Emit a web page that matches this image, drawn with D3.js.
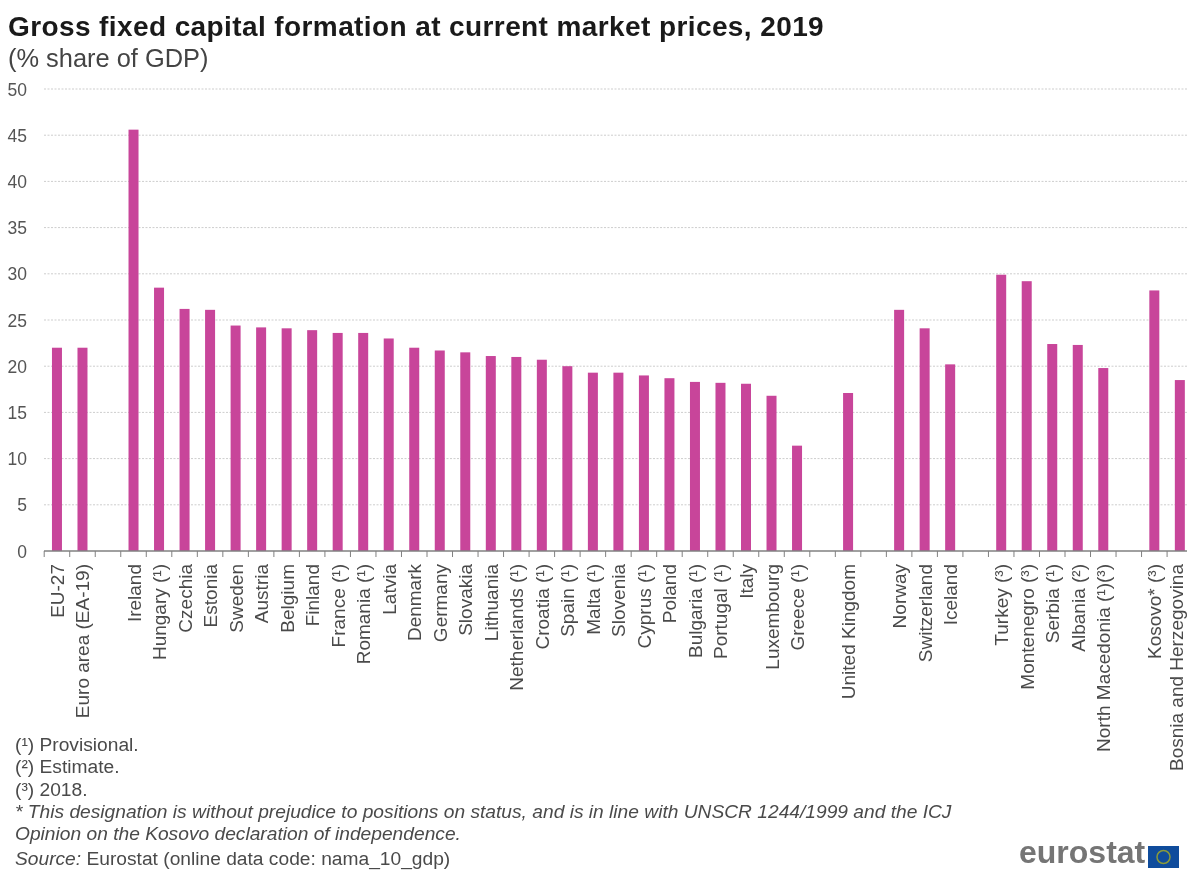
<!DOCTYPE html>
<html><head><meta charset="utf-8">
<script src="https://cdn.jsdelivr.net/npm/d3@7"></script>
<style>html,body{margin:0;padding:0;background:#fff;overflow:hidden}
svg{display:block;font-family:"Liberation Sans",Arial,sans-serif;filter:blur(0.6px)}</style></head>
<body><svg id="c" width="1187" height="870"></svg>
<script>
const categories=["EU-27","Euro area (EA-19)","_b1","Ireland","Hungary (¹)","Czechia","Estonia","Sweden","Austria","Belgium","Finland","France (¹)","Romania (¹)","Latvia","Denmark","Germany","Slovakia","Lithuania","Netherlands (¹)","Croatia (¹)","Spain (¹)","Malta (¹)","Slovenia","Cyprus (¹)","Poland","Bulgaria (¹)","Portugal (¹)","Italy","Luxembourg","Greece (¹)","_b2","United Kingdom","_b3","Norway","Switzerland","Iceland","_b4","Turkey (³)","Montenegro (³)","Serbia (¹)","Albania (²)","North Macedonia (¹)(³)","_b5","Kosovo* (³)","Bosnia and Herzegovina"];
const values=[22,22,null,45.6,28.5,26.2,26.1,24.4,24.2,24.1,23.9,23.6,23.6,23,22,21.7,21.5,21.1,21,20.7,20,19.3,19.3,19,18.7,18.3,18.2,18.1,16.8,11.4,null,17.1,null,26.1,24.1,20.2,null,29.9,29.2,22.4,22.3,19.8,null,28.2,18.5];
const yTicks=[0,5,10,15,20,25,30,35,40,45,50];
const footLines=[["(¹) Provisional.",751,"normal"],["(²) Estimate.",773,"normal"],["(³) 2018.",796,"normal"],["* This designation is without  prejudice to positions on status, and is in line with  UNSCR 1244/1999 and the ICJ",818,"italic"],["Opinion on the Kosovo declaration of independence.",840,"italic"]];
const svg=d3.select("#c");
const x=d3.scaleBand().domain(categories).range([44.2,1192.6]).padding(0);
const y=d3.scaleLinear().domain([0,50]).range([551,89]);
const bw=10;
svg.append("text").attr("x",8).attr("y",36).attr("font-size",28).attr("letter-spacing",0.4).attr("font-weight","bold").attr("fill","#1a1a1a").text("Gross fixed capital formation at current market prices, 2019");
svg.append("text").attr("x",8).attr("y",67).attr("font-size",25.4).attr("fill","#444").text("(% share of GDP)");
const g=svg.append("g");
g.selectAll("line.grid").data(yTicks.filter(d=>d>0)).join("line").attr("class","grid")
 .attr("x1",44).attr("x2",1187).attr("y1",d=>y(d)).attr("y2",d=>y(d))
 .attr("stroke","#cdcdcd").attr("stroke-width",1).attr("stroke-dasharray","2 1.5");
g.selectAll("text.yl").data(yTicks).join("text").attr("class","yl")
 .attr("x",27).attr("y",d=>y(d)+6.5).attr("text-anchor","end").attr("font-size",17.5).attr("fill","#555").text(d=>d);
g.selectAll("rect.bar").data(categories.map((c,i)=>({c,v:values[i]})).filter(d=>d.v!=null)).join("rect").attr("class","bar")
 .attr("x",d=>x(d.c)+x.bandwidth()/2-bw/2).attr("width",bw)
 .attr("y",d=>y(d.v)).attr("height",d=>y(0)-y(d.v)).attr("fill","#c8459a");
g.append("line").attr("x1",44).attr("x2",1187).attr("y1",y(0)).attr("y2",y(0)).attr("stroke","#808080").attr("stroke-width",1.5);
const tickPos=categories.map(c=>x(c)).concat([x.range()[1]]);
g.selectAll("line.t").data(tickPos).join("line").attr("class","t")
 .attr("x1",d=>d).attr("x2",d=>d).attr("y1",y(0)).attr("y2",y(0)+6).attr("stroke","#808080");
g.selectAll("text.xl").data(categories.filter(c=>!c.startsWith("_b"))).join("text").attr("class","xl")
 .attr("transform",c=>`translate(${Math.min(x(c)+x.bandwidth()/2+7,1182.5)},564) rotate(-90)`)
 .attr("text-anchor","end").attr("font-size",19).attr("fill","#4a4a4a").text(c=>c);
g.selectAll("text.f").data(footLines).join("text").attr("class","f")
 .attr("x",15).attr("y",d=>d[1]).attr("font-size",19.2).attr("font-style",d=>d[2]).attr("fill","#4a4a4a").text(d=>d[0]);
const s=svg.append("text").attr("x",15).attr("y",865).attr("font-size",19.2).attr("fill","#4a4a4a");
s.append("tspan").attr("font-style","italic").text("Source:");
s.append("tspan").text(" Eurostat (online data code: nama_10_gdp)");
svg.append("text").attr("x",1019).attr("y",863).attr("font-size",32).attr("font-weight","bold").attr("fill","#757575").text("eurostat");
svg.append("rect").attr("x",1148).attr("y",846).attr("width",31).attr("height",22).attr("fill","#0f4c9c");
svg.append("circle").attr("cx",1163.5).attr("cy",857).attr("r",6.5).attr("fill","none").attr("stroke","#8a9a3a").attr("stroke-width",1.5);
</script></body></html>
